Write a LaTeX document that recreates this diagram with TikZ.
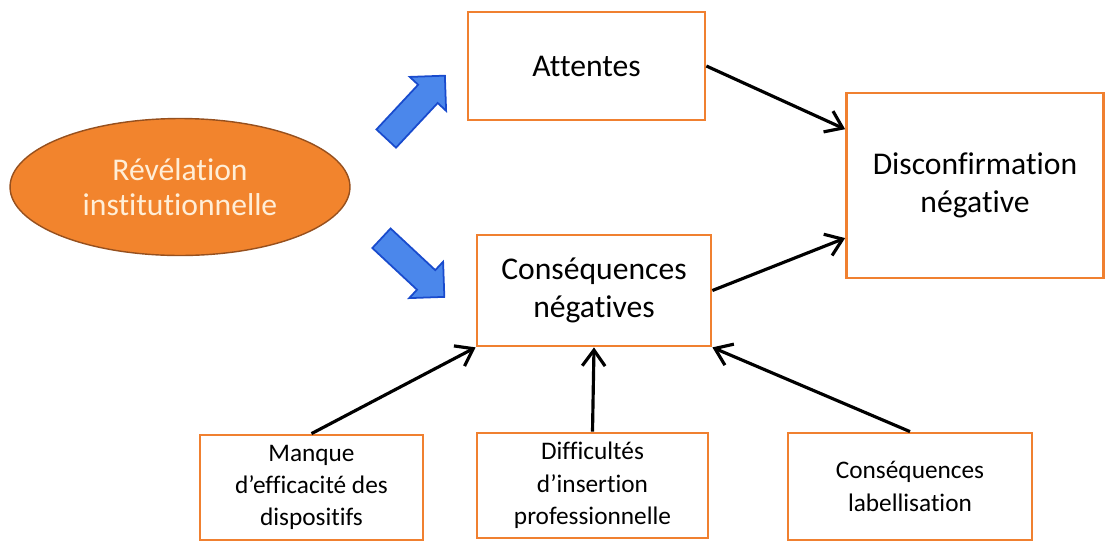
\documentclass[tikz,border=0pt]{standalone}
\usepackage{fontspec}
\setmainfont[Ligatures=NoCommon]{Carlito}
\usetikzlibrary{shapes.geometric,shapes.arrows,arrows.meta,calc}
\definecolor{boxorange}{RGB}{240,128,48}
\definecolor{ellipsefill}{RGB}{242,132,45}
\definecolor{ellipseedge}{RGB}{150,80,30}
\definecolor{ellipsetext}{RGB}{255,238,215}
\definecolor{arrowfill}{RGB}{75,135,235}
\definecolor{arrowedge}{RGB}{25,75,205}

\begin{document}
\begin{tikzpicture}[x=0.02cm, y=-0.02cm, box/.style={draw=boxorange, line width=1.6pt, fill=white, align=center, inner sep=0pt}, big/.style={font=\fontsize{18}{21.5}\selectfont}, small/.style={font=\fontsize{14.4}{18.4}\selectfont}, arr/.style={-{Straight Barb[length=9pt,width=13pt]}, line width=1.8pt}, blockarr/.style={single arrow, draw=arrowedge, fill=arrowfill, line width=1pt, minimum height=1.72cm, inner xsep=0pt, inner ysep=0.25cm, single arrow head extend=0.23cm}]
\useasboundingbox (0,0) rectangle (1105,542);
\node[ellipse, draw=ellipseedge, fill=ellipsefill, line width=0.8pt, minimum width=6.8cm, minimum height=2.74cm, text=ellipsetext, align=center, font=\fontsize{18}{20}\selectfont] (revel) at (180,187) {Révélation\\institutionnelle};
\node[box, big, minimum width=4.74cm, minimum height=2.16cm] (attentes) at (586.5,66) {Attentes};
\node[box, big, minimum width=4.68cm, minimum height=2.22cm] (cons) at (594,290.5) {Conséquences\\négatives};
\node[box, big, minimum width=5.14cm, minimum height=3.7cm] (disc) at (975,185.5) {Disconfirmation\\négative};
% bottom row
\node[box, small, minimum width=4.46cm, minimum height=2.1cm] (manque) at (311.5,487.5) {Manque\\d’efficacité des\\dispositifs};
\node[box, small, minimum width=4.62cm, minimum height=2.1cm] (diff) at (592.5,485.5) {Difficultés\\d’insertion\\professionnelle};
\node[box, small, minimum width=4.88cm, minimum height=2.14cm] (labellis) at (910,486.5) {Conséquences\\labellisation};
% blue block arrows
\node[blockarr, rotate=47] (up) at (411,112) {};
\node[blockarr, rotate=-43] (down) at (408,263) {};
\draw[arr] (attentes.east) -- ($(disc.north west)!0.2!(disc.south west)$);
\draw[arr] (cons.east) -- ($(disc.north west)!0.78!(disc.south west)$);
\draw[arr] (manque.north) -- (cons.south west);
\draw[arr] (diff.north) -- (cons.south);
\draw[arr] (labellis.north) -- (cons.south east);
\end{tikzpicture}
\end{document}
